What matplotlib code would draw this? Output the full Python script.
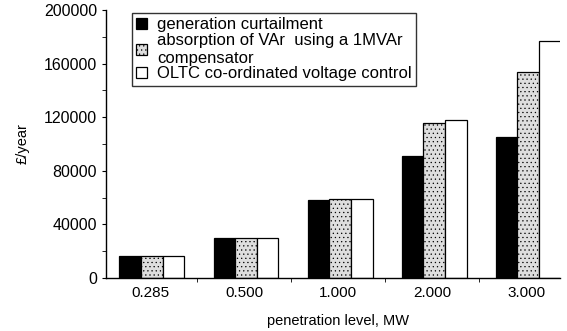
import matplotlib.pyplot as plt
from matplotlib.ticker import MultipleLocator, FixedLocator
import numpy as np

plt.rcParams['font.family'] = ['Liberation Sans', 'DejaVu Sans']

levels = ["0.285", "0.500", "1.000", "2.000", "3.000"]
curtailment = [16400, 29600, 58100, 90900, 105300]
absorption = [16400, 29600, 59100, 115700, 153500]
oltc = [16400, 29600, 59100, 117700, 176600]

series = [
    ("generation curtailment", curtailment, "black", None),
    ("absorption of VAr  using a 1MVAr\ncompensator", absorption, "#dedede", "...."),
    ("OLTC co-ordinated voltage control", oltc, "white", None),
]

plt.rcParams['hatch.color'] = '#b4b4b4'
plt.rcParams['hatch.linewidth'] = 0.4

fig = plt.figure(figsize=(5.67, 3.31), dpi=100)
ax = fig.add_axes([0.187, 0.160, 0.801, 0.810])

x = np.arange(len(levels))
w = 0.23
for i, (name, vals, col, hatch) in enumerate(series):
    ax.bar(x + (i - 1) * w + 0.02, vals, w, color=col, edgecolor="black",
           linewidth=0.9, label=name, hatch=hatch)

ax.set_ylim(0, 200000)
ax.set_xlim(-0.468, 4.36)
ax.yaxis.set_major_locator(MultipleLocator(40000))
ax.yaxis.set_minor_locator(MultipleLocator(20000))
ax.set_xticks(x)
ax.set_xticklabels(levels)
ax.xaxis.set_minor_locator(FixedLocator(x[:-1] + 0.5))
ax.tick_params(axis="x", which="major", length=0, labelsize=11, pad=6)
ax.tick_params(axis="x", which="minor", length=3, direction="out")
ax.tick_params(axis="y", which="both", length=3, direction="out", labelsize=11.5)

for s in ["top", "right"]:
    ax.spines[s].set_visible(False)
for s in ["left", "bottom"]:
    ax.spines[s].set_linewidth(1.0)

ax.set_ylabel("£/year", fontsize=10.5, labelpad=10)
ax.set_xlabel("penetration level, MW", fontsize=10.5, labelpad=4)
ax.xaxis.set_label_coords(0.51, -0.135)

ax.legend(loc="upper left", bbox_to_anchor=(0.05, 1.0), frameon=True, fancybox=False,
          edgecolor="black", fontsize=12, handlelength=0.65, handleheight=0.65,
          handletextpad=0.6, labelspacing=0.05, borderpad=0.25, borderaxespad=0.2)

fig.savefig("out.png", dpi=100)
